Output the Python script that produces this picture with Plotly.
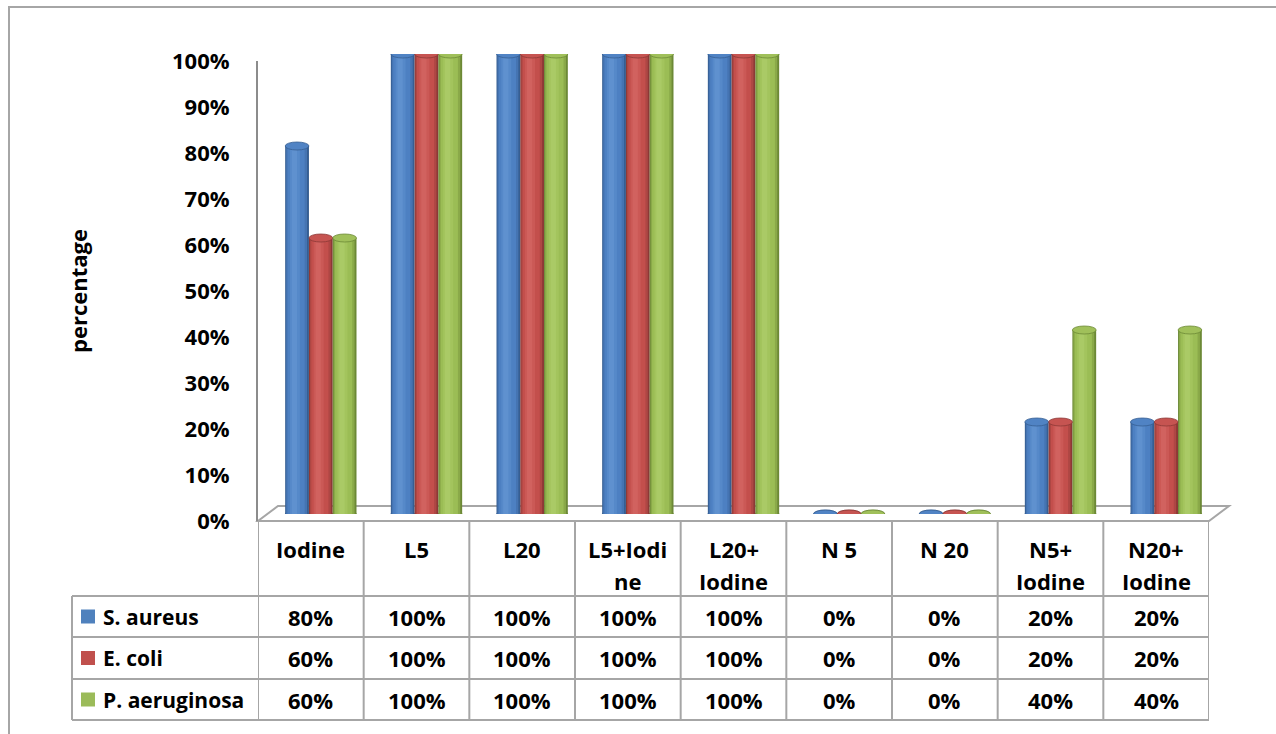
import plotly.graph_objects as go

# ---------------- data ----------------
categories = ["Iodine", "L5", "L20", "L5+Iodi<br>ne", "L20+<br>Iodine",
              "N 5", "N 20", "N5+<br>Iodine", "N20+<br>Iodine"]
series_names = ["S. aureus", "E. coli", "P. aeruginosa"]
s_aureus = [80, 100, 100, 100, 100, 0, 0, 20, 20]
e_coli = [60, 100, 100, 100, 100, 0, 0, 20, 20]
p_aeruginosa = [60, 100, 100, 100, 100, 0, 0, 40, 40]
y_ticks = [0, 10, 20, 30, 40, 50, 60, 70, 80, 90, 100]
y_title = "percentage"

series_values = [s_aureus, e_coli, p_aeruginosa]

# ---------------- styling ----------------
W_PX, H_PX = 1276, 734
def PX(x): return x / W_PX
def PY(y): return (H_PX - y) / H_PX

# shades per series: dark edge, mid, base, light, lighter, top
palettes = [
    ["#365E92", "#4574B2", "#4D80C2", "#5689C9", "#5F91CF", "#5083C4"],
    ["#8C3936", "#AE4744", "#C34F4C", "#CB5956", "#D1625F", "#C65451"],
    ["#6C8936", "#8AA949", "#9BBD55", "#A3C45D", "#AACA66", "#A0C05A"],
]
key_colors = ["#4F81BD", "#C0504D", "#9BBB59"]
layers = [(0.0, 1.0, 0), (0.04, 0.92, 1), (0.1, 0.82, 2), (0.2, 0.62, 3), (0.28, 0.5, 4)]

FONT = "Open Sans"
BW = 0.225                      # bar width in category units
EH = 4 * 100 / 460              # half ellipse height in y units
GRID = "#A6A6A6"

def bfont(size):
    return dict(family=FONT, size=size, color="black", weight=700)

x_idx = list(range(len(categories)))

fig = go.Figure()
shapes = []

# floor (3D base)
shapes.append(dict(type="path", xref="paper", yref="paper", layer="below",
                   path=f"M {PX(258)} {PY(521)} L {PX(1209)} {PY(521)} L {PX(1229)} {PY(506)} "
                        f"L {PX(278)} {PY(506)} Z",
                   line=dict(color=GRID, width=2), fillcolor="white"))
# outer chart border
shapes.append(dict(type="rect", xref="paper", yref="paper", layer="below",
                   x0=PX(9), x1=1.02, y0=-0.02, y1=PY(7),
                   line=dict(color=GRID, width=2), fillcolor="rgba(0,0,0,0)"))

for j, (name, vals) in enumerate(zip(series_names, series_values)):
    pal = palettes[j]
    left = (j - 1) * BW - BW / 2
    for a, b, ci in layers:
        fig.add_trace(go.Bar(
            x=x_idx, y=vals, xaxis="x2", yaxis="y2",
            width=(b - a) * BW, offset=left + a * BW,
            marker=dict(color=pal[ci], line=dict(width=0)),
            name=name, showlegend=False, hoverinfo="skip"))
    for i, v in enumerate(vals):
        # rounded bottom
        shapes.append(dict(type="circle", xref="x2", yref="y2", layer="below",
                           x0=i + left, x1=i + left + BW, y0=-EH, y1=EH,
                           fillcolor=pal[0], line=dict(color=pal[0], width=0.5)))
        # top cap
        shapes.append(dict(type="circle", xref="x2", yref="y2", layer="above",
                           x0=i + left, x1=i + left + BW, y0=v - EH, y1=v + EH,
                           fillcolor=pal[5], line=dict(color=pal[0], width=0.8)))

# ---------------- data table ----------------
row_lines = [596, 637, 679, 720]
row_centers = [616.5, 658, 699.5]
for yl in row_lines:
    shapes.append(dict(type="line", xref="paper", yref="paper",
                       x0=PX(72), x1=PX(1209), y0=PY(yl), y1=PY(yl),
                       line=dict(color=GRID, width=2)))
for k in range(len(categories) + 1):
    shapes.append(dict(type="line", xref="x", yref="paper",
                       x0=k - 0.5, x1=k - 0.5, y0=PY(521), y1=PY(720),
                       line=dict(color=GRID, width=2)))
shapes.append(dict(type="line", xref="paper", yref="paper",
                   x0=PX(72), x1=PX(72), y0=PY(596), y1=PY(720),
                   line=dict(color=GRID, width=2)))

annotations = []
for i, lab in enumerate(categories):
    for k, part in enumerate(lab.split("<br>")):
        annotations.append(dict(xref="x", yref="paper", x=i, y=PY(549 + 32 * k),
                                text=part, showarrow=False, font=bfont(22),
                                xanchor="center", yanchor="middle"))
for j, (name, vals) in enumerate(zip(series_names, series_values)):
    yc = row_centers[j]
    shapes.append(dict(type="rect", xref="paper", yref="paper",
                       x0=PX(81), x1=PX(95), y0=PY(yc + 7), y1=PY(yc - 7),
                       fillcolor=key_colors[j], line=dict(width=0)))
    annotations.append(dict(xref="paper", yref="paper", x=PX(101), y=PY(yc),
                            text=name, showarrow=False, font=bfont(21),
                            xanchor="left", yanchor="middle"))
    for i, v in enumerate(vals):
        annotations.append(dict(xref="x", yref="paper", x=i, y=PY(yc),
                                text=f"{v}%", showarrow=False, font=bfont(22),
                                xanchor="center", yanchor="middle"))

annotations.append(dict(xref="paper", yref="paper", x=PX(78), y=PY(291),
                        text=y_title, textangle=-90, showarrow=False, font=bfont(22),
                        xanchor="center", yanchor="middle"))

fig.update_layout(
    width=W_PX, height=H_PX, autosize=False,
    margin=dict(l=0, r=0, t=0, b=0, pad=0, autoexpand=False),
    paper_bgcolor="white", plot_bgcolor="rgba(0,0,0,0)",
    barmode="overlay", showlegend=False,
    xaxis=dict(domain=[PX(258), PX(1209)], range=[-0.5, 8.5], visible=False,
               anchor="y", fixedrange=True, automargin=False),
    yaxis=dict(domain=[PY(521), PY(61)], range=[0, 100], anchor="x",
               tickvals=y_ticks, ticktext=[f"{t}%" for t in y_ticks],
               tickfont=bfont(22), showgrid=False, zeroline=False,
               showline=True, linecolor="#8C8C8C", linewidth=2,
               ticks="outside", ticklen=22, tickcolor="rgba(0,0,0,0)",
               fixedrange=True, automargin=False),
    xaxis2=dict(domain=[PX(268), PX(1219)], range=[-0.5, 8.5], visible=False,
                anchor="y2", fixedrange=True, automargin=False),
    yaxis2=dict(domain=[PY(514), PY(54)], range=[0, 100], visible=False,
                anchor="x2", fixedrange=True, automargin=False),
    shapes=shapes, annotations=annotations,
)

fig.write_html(
    "out.html",
    config={"displayModeBar": False},
    post_script="document.body.style.margin='0';document.body.style.overflow='hidden';",
)
